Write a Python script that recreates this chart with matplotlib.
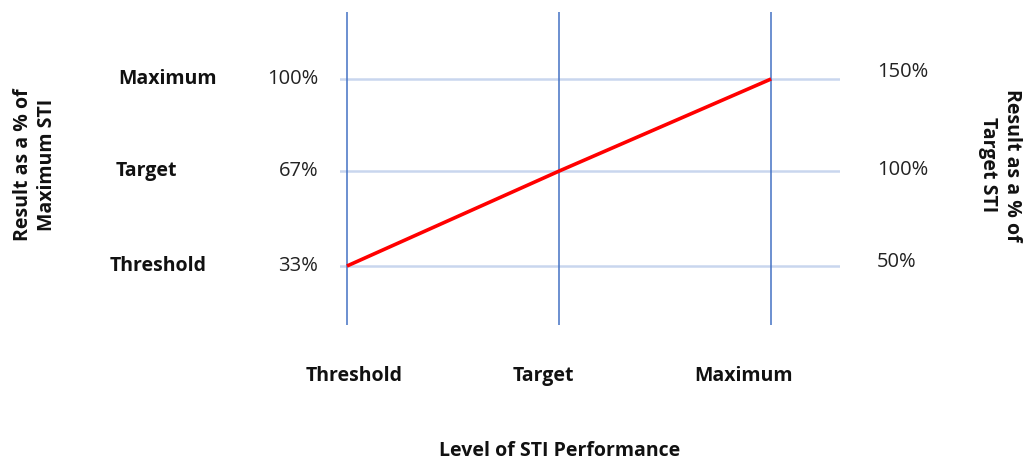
import matplotlib
matplotlib.use("Agg")
import matplotlib.pyplot as plt

# Data
performance_levels = ["Threshold", "Target", "Maximum"]
pct_of_maximum = [33, 67, 100]
pct_labels_max = ["33%", "67%", "100%"]
pct_labels_target = ["50%", "100%", "150%"]
row_labels = ["Threshold", "Target", "Maximum"]

plt.rcParams['font.family'] = ['Open Sans', 'DejaVu Sans']

W, H = 1026, 461
fig = plt.figure(figsize=(W / 100, H / 100), dpi=100)
ax = fig.add_axes([340 / W, 1 - 325 / H, 500 / W, 313 / H])
ax.set_xlim(-0.033, 2.325)
ax.set_ylim(11.86, 124.0)

xs = list(range(len(performance_levels)))
for y in pct_of_maximum:
    ax.axhline(y, color="#C9D6EE", lw=1.8, zorder=1)
for x in xs:
    ax.axvline(x, color="#4472C4", lw=1.1, zorder=2)
ax.plot(xs, pct_of_maximum, color="#FF0000", lw=2.6, zorder=3, solid_capstyle="butt")

for s in ax.spines.values():
    s.set_visible(False)
ax.set_xticks([])
ax.set_yticks([])

# left percentages
tr_left = matplotlib.transforms.blended_transform_factory(fig.transFigure, ax.transData)
for y, lab in zip(pct_of_maximum, pct_labels_max):
    ax.text(318 / W, y, lab, transform=tr_left, ha="right", va="center", fontsize=14.5, color="#222222")
# row labels
row_x = [158 / W, 146 / W, 167 / W]
for y, lab, rx in zip(pct_of_maximum, row_labels, row_x):
    ax.text(rx, y, lab, transform=tr_left, ha="center", va="center", fontsize=14, fontweight="bold", color="#111111")
# right percentages
right_y = [262, 170, 72]
for ry, lab in zip(right_y, pct_labels_target):
    fig.text(877 / W, 1 - ry / H, lab, ha="left", va="center", fontsize=14.5, color="#222222")

# bottom category labels
bottom_x = [354, 543, 743]
for bx, lab in zip(bottom_x, performance_levels):
    fig.text(bx / W, 1 - 376 / H, lab, ha="center", va="center", fontsize=14, fontweight="bold", color="#111111")

fig.text(560 / W, 1 - 451 / H, "Level of STI Performance", ha="center", va="center",
         fontsize=14, fontweight="bold", color="#111111")
fig.text(35 / W, 1 - 165 / H, "Result as a % of\nMaximum STI", ha="center", va="center",
         rotation=90, fontsize=14, fontweight="bold", color="#111111", linespacing=1.3)
fig.text(1000 / W, 1 - 165 / H, "Result as a % of\nTarget STI", ha="center", va="center",
         rotation=-90, fontsize=14, fontweight="bold", color="#111111", linespacing=1.3)

fig.savefig("out.png", dpi=100)
